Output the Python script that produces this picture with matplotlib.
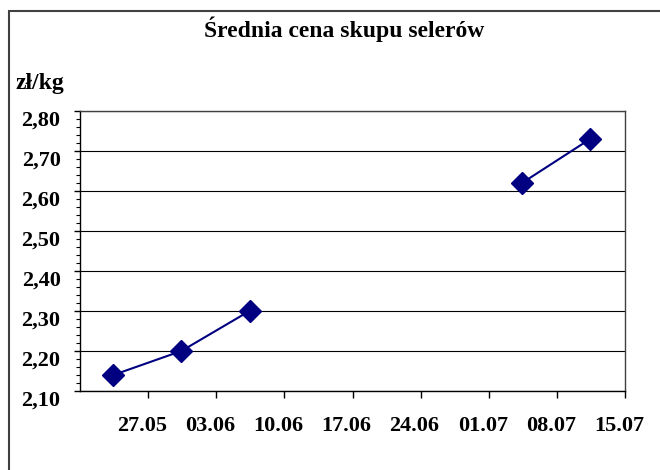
import matplotlib
matplotlib.use("Agg")
import matplotlib.pyplot as plt
import matplotlib.transforms as mtrans
from matplotlib.patches import Rectangle
import numpy as np
import pandas as pd

# Data
dates = ["2008-05-23", "2008-05-30", "2008-06-06", "2008-06-13", "2008-06-20",
         "2008-06-27", "2008-07-04", "2008-07-11"]
prices = [2.14, 2.20, 2.30, np.nan, np.nan, np.nan, 2.62, 2.73]
tick_dates = ["2008-05-27", "2008-06-03", "2008-06-10", "2008-06-17",
              "2008-06-24", "2008-07-01", "2008-07-08", "2008-07-15"]
tick_labels = ["27.05", "03.06", "10.06", "17.06", "24.06", "01.07", "08.07", "15.07"]
y_ticks = [2.10, 2.20, 2.30, 2.40, 2.50, 2.60, 2.70, 2.80]
y_tick_labels = ["2,10", "2,20", "2,30", "2,40", "2,50", "2,60", "2,70", "2,80"]
title = "Średnia cena skupu selerów"
unit = "zł/kg"

plt.rcParams['font.family'] = ['Liberation Serif', 'DejaVu Serif']
plt.rcParams['font.weight'] = 'bold'

W, H = 660, 470
fig = plt.figure(figsize=(W / 100, H / 100), dpi=100)
fig.patch.set_facecolor('white')

# outer chart border (cropped on right/bottom)
fig.patches.append(Rectangle((9 / W, -0.05), 1.2, (H - 11) / H + 0.05,
                             transform=fig.transFigure, fill=False,
                             edgecolor='#404040', linewidth=1.5))

L, R, T, B = 80, 625, 111, 391
ax = fig.add_axes([L / W, (H - B) / H, (R - L) / W, (B - T) / H])

x = pd.to_datetime(dates) + pd.Timedelta(hours=10)
ax.plot(x, prices, color='#000080', linewidth=1.5, marker='D',
        markersize=11, markerfacecolor='#000080', markeredgecolor='#000080',
        zorder=5)

ax.set_xlim(pd.Timestamp("2008-05-20"), pd.Timestamp("2008-07-15"))
ax.set_ylim(2.10, 2.80)

ax.set_xticks(pd.to_datetime(tick_dates))
ax.set_xticklabels(tick_labels)
ax.set_yticks(y_ticks)
ax.set_yticklabels(y_tick_labels)
ax.set_yticks(np.arange(2.10, 2.80001, 0.02), minor=True)

ax.yaxis.grid(True, which='major', color='black', linewidth=0.8)
ax.set_axisbelow(True)

for s in ax.spines.values():
    s.set_color('#404040')
    s.set_linewidth(1.0)
ax.spines['left'].set_color('black')
ax.spines['bottom'].set_color('black')

ax.tick_params(axis='x', direction='out', length=5, width=1, pad=13,
               labelsize=16)
ax.tick_params(axis='y', which='major', direction='out', length=4, width=1,
               pad=10, labelsize=16)
ax.tick_params(axis='y', which='minor', direction='out', length=3, width=0.8)

for lab in ax.get_xticklabels():
    lab.set_fontweight('bold')
    lab.set_transform(lab.get_transform() +
                      mtrans.ScaledTranslation(-6 / 100, 0, fig.dpi_scale_trans))
for lab in ax.get_yticklabels():
    lab.set_fontweight('bold')
    lab.set_transform(lab.get_transform() +
                      mtrans.ScaledTranslation(0, -7 / 100, fig.dpi_scale_trans))

fig.text(344 / W, 1 - 29 / H, title, ha='center', va='center',
         fontsize=17, fontweight='bold')
fig.text(15 / W, 1 - 84 / H, unit, ha='left', va='center',
         fontsize=17, fontweight='bold')

fig.savefig("out.png", dpi=100, facecolor='white')
